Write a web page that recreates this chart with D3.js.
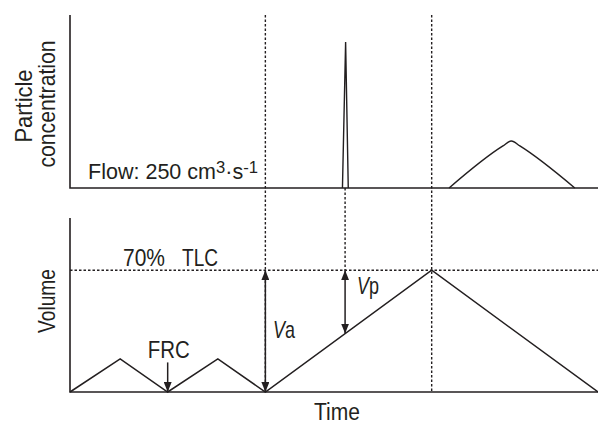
<!DOCTYPE html>
<html>
<head>
<meta charset="utf-8">
<script src="https://d3js.org/d3.v7.min.js"></script>
<style>
  body { margin: 0; background: #fff; }
  text { font-family: "Liberation Sans", Arial, sans-serif; fill: #231f20; }
</style>
</head>
<body>
<div id="chart"></div>
<script>
// time in arbitrary units (0..100), values in % of panel height
const spikeTime = [51.6, 52.2, 52.7];
const spikeConc = [0, 84.4, 0];
const humpTime = [71.8, 82.0, 83.6, 85.2, 95.6];
const humpConc = [0, 24.3, 27.2, 24.3, 0];
const volTime = [0, 9.5, 18.5, 28, 37, 68.5, 100];
const volValue = [0, 19, 0, 19, 0, 70, 0];
const tlcLevel = 70;
const markTimes = [37, 68.5];      // dotted lines through both panels
const bolusTime = 52.1;            // spike / Vp
const frcTime = 18.5;
const frcArrowTop = 17;

const width = 598, height = 426;
const ink = "#231f20";

const svg = d3.select("#chart").append("svg")
  .attr("width", width).attr("height", height);

const defs = svg.append("defs");
defs.append("marker")
  .attr("id", "head")
  .attr("markerUnits", "userSpaceOnUse")
  .attr("viewBox", "0 0 10 8")
  .attr("markerWidth", 10).attr("markerHeight", 8)
  .attr("refX", 10).attr("refY", 4)
  .attr("orient", "auto-start-reverse")
  .append("path").attr("d", "M0,0L10,4L0,8Z").attr("fill", ink);

const x = d3.scaleLinear().domain([0, 100]).range([70, 598]);
const yTop = d3.scaleLinear().domain([0, 100]).range([188, 15]);
const yBot = d3.scaleLinear().domain([0, 100]).range([392, 218]);

const line = (ys, curve) => d3.line()
  .x(d => x(d[0])).y(d => ys(d[1])).curve(curve || d3.curveLinear);

function dotted(x1, y1, x2, y2) {
  svg.append("line")
    .attr("x1", x1).attr("x2", x2).attr("y1", y1).attr("y2", y2)
    .attr("stroke", ink).attr("stroke-width", 1.4)
    .attr("stroke-dasharray", "2.5,2");
}
// dotted guides
markTimes.forEach(t => dotted(x(t), yTop(100), x(t), yBot(0)));
dotted(x(bolusTime), yTop(0), x(bolusTime), yBot(tlcLevel));
dotted(x(0), yBot(tlcLevel), x(100), yBot(tlcLevel));

// axes (plain lines, no ticks)
[yTop, yBot].forEach(ys => {
  svg.append("path")
    .attr("d", `M${x(0)},${ys(100)}V${ys(0)}H${x(100)}`)
    .attr("fill", "none").attr("stroke", ink).attr("stroke-width", 1.6);
});

// concentration traces
svg.append("path")
  .datum(d3.zip(spikeTime, spikeConc))
  .attr("d", line(yTop))
  .attr("fill", "none").attr("stroke", ink).attr("stroke-width", 1.4);
svg.append("path")
  .datum(d3.zip(humpTime, humpConc))
  .attr("d", line(yTop, d3.curveMonotoneX))
  .attr("fill", "none").attr("stroke", ink).attr("stroke-width", 1.5);

// volume trace
svg.append("path")
  .datum(d3.zip(volTime, volValue))
  .attr("d", line(yBot))
  .attr("fill", "none").attr("stroke", ink).attr("stroke-width", 1.5);

// arrows
const interp = d3.scaleLinear().domain([volTime[4], volTime[5]]).range([volValue[4], volValue[5]]);
function arrow(t, v1, v2, both) {
  const a = svg.append("line")
    .attr("x1", x(t)).attr("x2", x(t))
    .attr("y1", yBot(v1)).attr("y2", yBot(v2))
    .attr("stroke", ink).attr("stroke-width", 1.5)
    .attr("marker-end", "url(#head)");
  if (both) a.attr("marker-start", "url(#head)");
}
arrow(markTimes[0], tlcLevel, 0, true);
arrow(bolusTime, tlcLevel, interp(bolusTime), true);
arrow(frcTime, frcArrowTop, 0, false);

// labels
function label(txt, px, py, opts) {
  opts = opts || {};
  const t = svg.append("text")
    .attr("transform", `translate(${px},${py})` + (opts.rotate ? " rotate(-90)" : ""))
    .attr("text-anchor", opts.anchor || "start")
    .attr("font-size", opts.size || 24)
    .text(txt);
  if (opts.len) t.attr("textLength", opts.len).attr("lengthAdjust", "spacingAndGlyphs");
  return t;
}
label("Particle", 32, 106, {rotate: true, anchor: "middle", len: 73});
label("concentration", 55, 104, {rotate: true, anchor: "middle", len: 127});
label("Volume", 55, 301, {rotate: true, anchor: "middle", len: 64});
label("Time", 337, 420, {anchor: "middle", len: 46, size: 23});
label("70%", 123, 266, {len: 42});
label("TLC", 182, 266, {len: 36});
label("FRC", x(frcTime) + 1, 358, {anchor: "middle", len: 42});

const flow = svg.append("text")
  .attr("x", 88).attr("y", 179).attr("font-size", 22)
  .attr("textLength", 170).attr("lengthAdjust", "spacingAndGlyphs");
flow.append("tspan").text("Flow: 250 cm");
flow.append("tspan").attr("font-size", 17).attr("dy", -6).text("3");
flow.append("tspan").attr("dy", 6).text("·s");
flow.append("tspan").attr("font-size", 17).attr("dy", -6).text("-1");

function vLabel(sub, px, py) {
  const t = svg.append("text").attr("x", px).attr("y", py).attr("font-size", 24)
    .attr("textLength", 22).attr("lengthAdjust", "spacingAndGlyphs");
  t.append("tspan").attr("font-style", "italic").text("V");
  t.append("tspan").text(sub);
}
vLabel("a", 273, 338);
vLabel("p", 357, 294);
</script>
</body>
</html>
